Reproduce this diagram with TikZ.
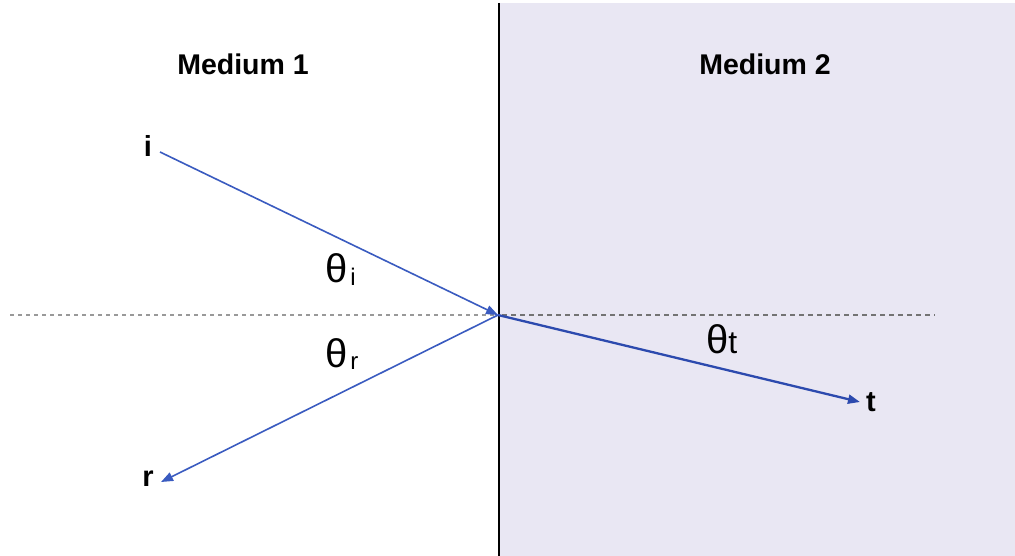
\documentclass[tikz,border=0pt]{standalone}
\usepackage{fontspec}
\setmainfont{Liberation Sans}
\usetikzlibrary{arrows.meta}
\definecolor{medtwo}{HTML}{E9E7F3}
\definecolor{rayblue}{HTML}{3A5BC0}
\definecolor{raydark}{HTML}{2C4AAE}
\begin{document}
\begin{tikzpicture}[x=1pt,y=-1pt,
  lbl/.style={font=\fontsize{29}{31}\selectfont\bfseries, inner sep=0pt},
  medlbl/.style={font=\fontsize{28.5}{30}\selectfont\bfseries, inner sep=0pt},
  ang/.style={font=\fontsize{40}{42}\selectfont, inner sep=0pt},
  ray/.style={rayblue, line width=1.6pt, -{Triangle[length=12pt,width=9pt]}},
  raythick/.style={raydark, line width=2.3pt, -{Triangle[length=12pt,width=9pt]}},
  normL/.style={gray!80, line width=1.1pt, dash pattern=on 4pt off 4pt},
  normR/.style={gray!90!black, line width=1.8pt, dash pattern=on 5pt off 4pt}]
\useasboundingbox (0,0) rectangle (1015,556);
\fill[white] (0,0) rectangle (1015,556);
\fill[medtwo] (500,3) rectangle (1015,556);
% interface
\coordinate (topI) at (499,3);
\coordinate (botI) at (499,556);
\draw[black, line width=2pt] (topI) -- (botI);
% normal
\coordinate (nL) at (10,315);
\coordinate (O) at (498,315);
\coordinate (O2) at (502,315);
\coordinate (nR) at (935,315);
\draw[normL] (nL) -- (O);
\draw[normR] (O2) -- (nR);
% labels
\node[medlbl] (m1) at (243,64) {Medium 1};
\node[medlbl] (m2) at (765,64) {Medium 2};
\node[lbl] (li) at (148,146) {i};
\node[lbl] (lr) at (148,479) {r};
\node[lbl] (lt) at (871,402) {t};
% rays
\coordinate (iS) at (160,152);
\coordinate (rE) at (161,482);
\coordinate (tE) at (860,402);
\draw[ray] (iS) -- (O);
\draw[ray] (O) -- (rE);
\draw[raythick] (O) -- (tE);
% angles
\node[ang, anchor=base west] (thi) at (325,283) {θ\hspace{3pt}\raisebox{-2pt}{\fontsize{24}{26}\selectfont i}};
\node[ang, anchor=base west] (thr) at (325,367) {θ\hspace{3pt}\raisebox{-2pt}{\fontsize{24}{26}\selectfont r}};
\node[ang, anchor=base west] (tht) at (706,353) {θ\fontsize{32}{34}\selectfont t};
\end{tikzpicture}
\end{document}
